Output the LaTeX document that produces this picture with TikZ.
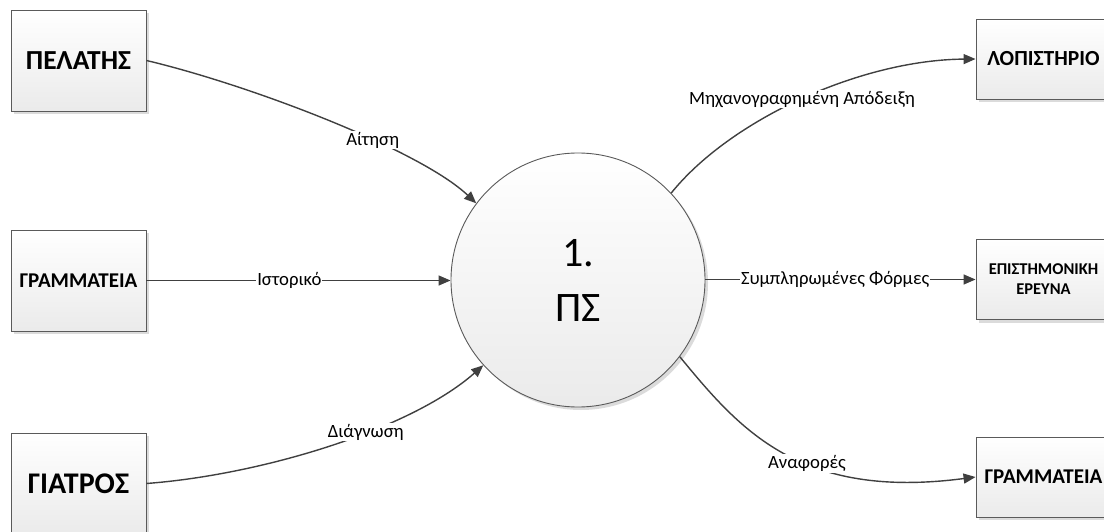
\documentclass[tikz,border=0pt]{standalone}
\usepackage{fontspec}
\setmainfont{Carlito}
\usetikzlibrary{arrows.meta,shadows}
\definecolor{edgecol}{HTML}{404040}
\definecolor{bordercol}{HTML}{5A5A5A}
\tikzset{
  entity/.style={draw=bordercol, line width=0.9pt, rectangle, top color=white, bottom color=black!8,
    drop shadow={shadow xshift=3pt, shadow yshift=-3pt, fill=black, opacity=0.14},
    minimum width=135pt, align=center, inner sep=2pt, font=\bfseries},
  proc/.style={draw=bordercol, line width=0.9pt, circle, top color=white, bottom color=black!8,
    drop shadow={shadow xshift=3pt, shadow yshift=-3pt, fill=black, opacity=0.14},
    minimum size=254pt, align=center, inner sep=0pt},
  flow/.style={draw=edgecol, line width=1.4pt, -{Triangle[length=12pt,width=10pt]}},
  lbl/.style={fill=white, inner sep=1pt, font=\fontsize{18.7}{21}\selectfont, text=black},
}
\begin{document}
\begin{tikzpicture}[x=1pt,y=-1pt]
\useasboundingbox (0,0) rectangle (1104,532);
% entities
\node[entity, minimum height=101pt, font=\bfseries\fontsize{27.5}{31}\selectfont] (pel) at (78.5,60.5) {ΠΕΛΑΤΗΣ};
\node[entity, minimum height=101pt, font=\bfseries\fontsize{21}{24}\selectfont] (gra) at (78.5,280.5) {ΓΡΑΜΜΑΤΕΙΑ};
\node[entity, minimum height=101pt, font=\bfseries\fontsize{30}{34}\selectfont] (gia) at (78.5,483.5) {ΓΙΑΤΡΟΣ};
\node[entity, minimum height=80pt, font=\bfseries\fontsize{21.5}{25}\selectfont] (log) at (1043.5,59) {ΛΟΠΙΣΤΗΡΙΟ};
\node[entity, minimum height=80pt, font=\bfseries\fontsize{16.5}{20}\selectfont] (epi) at (1043.5,279.5) {ΕΠΙΣΤΗΜΟΝΙΚΗ\\ΕΡΕΥΝΑ};
\node[entity, minimum height=80pt, font=\bfseries\fontsize{21}{25}\selectfont] (grb) at (1043.5,477) {ΓΡΑΜΜΑΤΕΙΑ};
% process
\node[proc, font=\fontsize{42}{55}\selectfont] (ps) at (578,280) {1.\\ΠΣ};
% flows in
\draw[flow] (pel.east) .. controls (250,85) and (420,150) .. node[lbl, pos=0.62] {Αίτηση} (ps.143);
\draw[flow] (gra.east) -- node[lbl, pos=0.47] {Ιστορικό} (gra.east -| ps.west);
\draw[flow] (gia.east) .. controls (260,475) and (410,430) .. node[lbl, pos=0.6] {Διάγνωση} (ps.222);
% flows out
\draw[flow] (ps.43) .. controls (730,120) and (860,60) .. node[lbl, pos=0.5] {Μηχανογραφημένη Απόδειξη} (log.west);
\draw[flow] (ps.east |- epi.west) -- node[lbl, pos=0.48] {Συμπληρωμένες Φόρμες} (epi.west);
\draw[flow] (ps.-37) .. controls (740,430) and (800,500) .. node[lbl, pos=0.58] {Αναφορές} (grb.west);
\end{tikzpicture}
\end{document}
